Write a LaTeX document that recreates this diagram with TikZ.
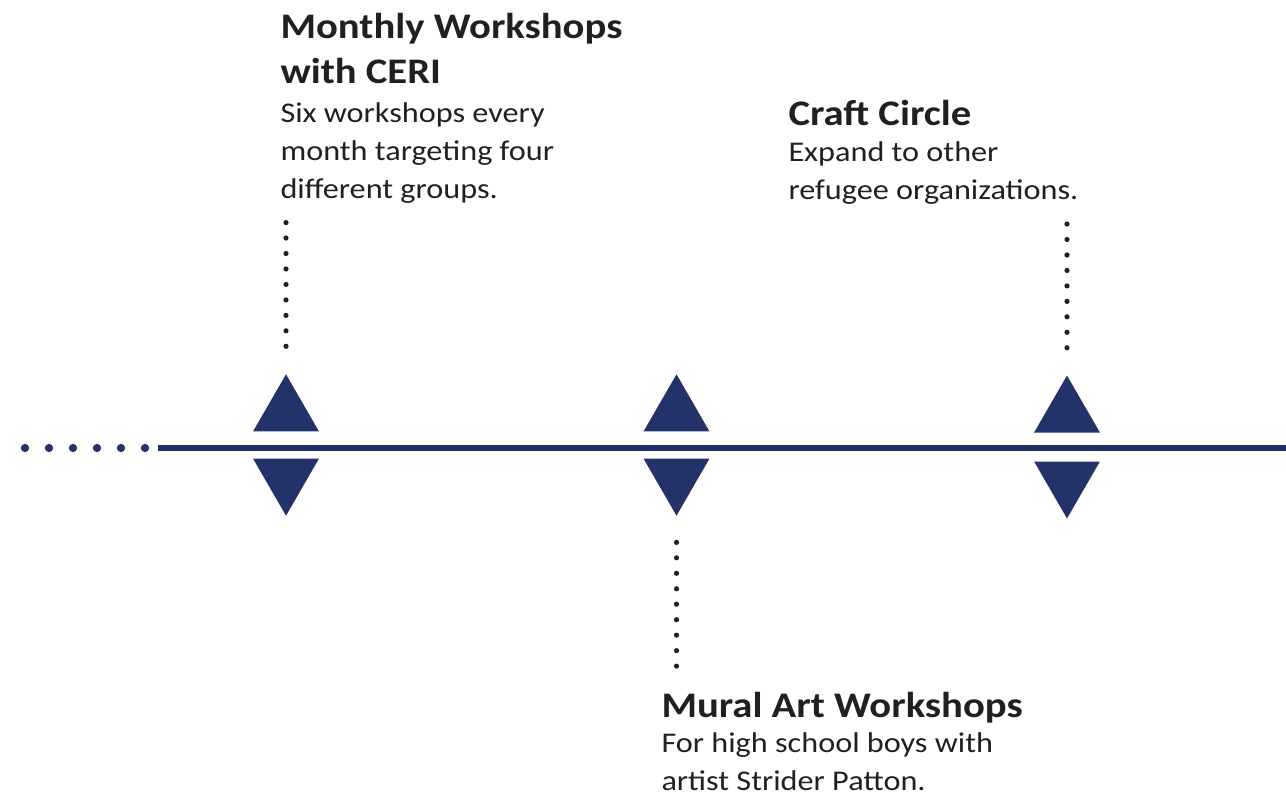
\documentclass[tikz,border=0pt]{standalone}
\usepackage{fontspec}
\setmainfont{Carlito}[FakeStretch=1.13]
\usetikzlibrary{shapes.geometric}
\definecolor{navy}{RGB}{36,50,106}
\definecolor{ink}{RGB}{35,31,32}
\tikzset{every picture/.style={line width=0.75pt}}
\tikzset{
  uptri/.style={regular polygon, regular polygon sides=3, minimum size=57pt, inner sep=0pt, outer sep=0pt, fill=navy},
  dntri/.style={uptri, shape border rotate=180},
  headtxt/.style={anchor=base west, align=left, inner sep=0pt, text=ink, font=\fontsize{27pt}{33.75pt}\selectfont\bfseries},
  bodytxt/.style={anchor=base west, align=left, inner sep=0pt, text=ink, font=\fontsize{21.4pt}{28.5pt}\selectfont},
  dotline/.style={line width=3.9pt, line cap=round, dash pattern=on 0pt off 11.6pt, color=ink}
}

\begin{document}
\begin{tikzpicture}[x=0.75pt,y=0.75pt,yscale=-1,xscale=1]
\useasboundingbox (0,0) rectangle (1286,800);

%Straight Lines [id:timeline]
\draw [color=navy, line width=3.9pt] (158,448) -- (1286,448) ;
%Dots [id:leftdots]
\foreach \x in {25,49,73,97,121,145}
  \fill [navy] (\x,448) circle [radius=3.1pt];

%Shape: Triangles
\node [uptri] (up1) at (286,412.3) {};
\node [dntri] (dn1) at (286,477.7) {};
\node [uptri] (up2) at (676.5,412.3) {};
\node [dntri] (dn2) at (676.5,477.7) {};
\node [uptri] (up3) at (1067,413.5) {};
\node [dntri] (dn3) at (1067,480.5) {};

% Text Node
\node [headtxt] (mono) at (280,83.5) {Monthly Workshops\\with CERI};
% Text Node
\node [bodytxt] (monoTxt) at (280,198) {Six workshops every\\month targeting four\\different groups.};
% Text Node
\node [headtxt] (craft) at (788,125) {Craft Circle};
% Text Node
\node [bodytxt] (craftTxt) at (788,199) {Expand to other\\refugee organizations.};
% Text Node
\node [headtxt] (mural) at (661,717) {Mural Art Workshops};
% Text Node
\node [bodytxt] (muralTxt) at (661,790) {For high school boys with\\artist Strider Patton.};

%Dotted Lines
\draw [dotline] ([yshift=-21pt]up1.north) -- ([yshift=-115pt]up1.north) ;
\draw [dotline] ([yshift=20pt]dn2.south) -- ([yshift=112.8pt]dn2.south) ;
\draw [dotline] ([yshift=-20.8pt]up3.north) -- ([yshift=-113.6pt]up3.north) ;

\end{tikzpicture}
\end{document}
